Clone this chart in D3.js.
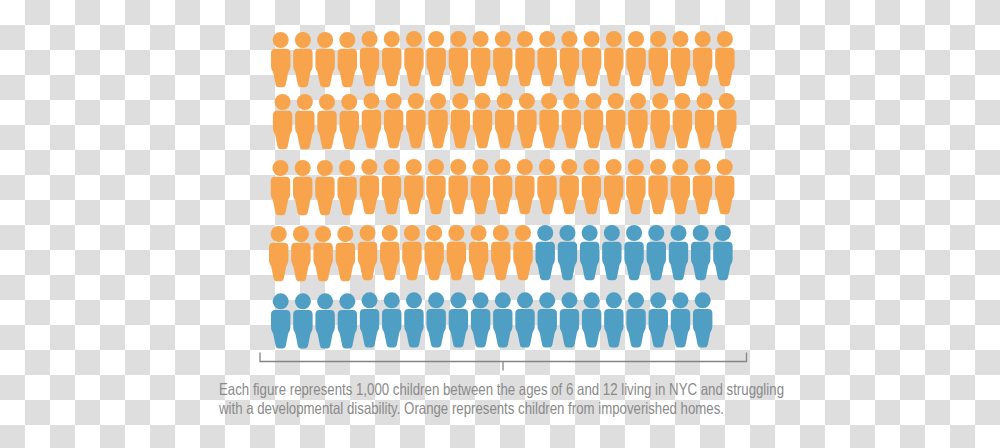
<!DOCTYPE html>
<html><head><meta charset="utf-8">
<style>html,body{margin:0;padding:0;background:#fff}svg{display:block}</style>
<script src="https://cdn.jsdelivr.net/npm/d3@7/dist/d3.min.js"></script>
</head><body><div id="c"></div>
<script>
const rowNames = ["row1","row2","row3","row4","row5"];
const orangeCounts = [21,21,21,12,0];
const blueCounts = [0,0,0,9,20];
const captionLines = [
  "Each figure represents 1,000 children between the ages of 6 and 12 living in NYC and struggling",
  "with a developmental disability. Orange represents children from impoverished homes."
];

const W=1000,H=448;
const svg=d3.select("#c").append("svg").attr("width",W).attr("height",H);
const defs=svg.append("defs");
const pat=defs.append("pattern").attr("id","chk").attr("patternUnits","userSpaceOnUse")
  .attr("width",50).attr("height",50);
pat.append("rect").attr("width",50).attr("height",50).attr("fill","#fff");
pat.append("rect").attr("x",25).attr("y",0).attr("width",25).attr("height",25).attr("fill","#dedede");
pat.append("rect").attr("x",0).attr("y",25).attr("width",25).attr("height",25).attr("fill","#dedede");
svg.append("rect").attr("width",W).attr("height",H).attr("fill","url(#chk)");

const color=d3.scaleOrdinal().domain(["orange","blue"]).range(["#f8a44c","#4f9ec4"]);
const rowY=d3.scaleOrdinal().domain(rowNames).range([39,101,167,233,300.3]);
const rowX0=d3.scaleOrdinal().domain(rowNames).range([280.7,282.6,280.5,278.7,280.7]);
const col=d3.scaleLinear().domain([0,20]).range([0,444.2]);

function bodyPath(){
  const p=d3.path();
  p.moveTo(-5.5,8.8);
  p.lineTo(5.5,8.8);
  p.bezierCurveTo(8.4,8.8,9.7,10.6,9.7,13.2);
  p.lineTo(9.7,26);
  p.bezierCurveTo(9.7,29.5,8,30.5,7.4,33);
  p.lineTo(5.2,44);
  p.bezierCurveTo(4.8,46.3,3.6,47.2,2,47.2);
  p.lineTo(-2,47.2);
  p.bezierCurveTo(-3.6,47.2,-4.8,46.3,-5.2,44);
  p.lineTo(-7.4,33);
  p.bezierCurveTo(-8,30.5,-9.7,29.5,-9.7,26);
  p.lineTo(-9.7,13.2);
  p.bezierCurveTo(-9.7,10.6,-8.4,8.8,-5.5,8.8);
  p.closePath();
  return p.toString();
}
const body=bodyPath();

const figures=[];
rowNames.forEach((r,ri)=>{
  d3.range(orangeCounts[ri]).forEach(i=>figures.push({r,i,kind:"orange"}));
  d3.range(blueCounts[ri]).forEach(j=>figures.push({r,i:orangeCounts[ri]+j,kind:"blue"}));
});
const g=svg.selectAll("g.fig").data(figures).join("g").attr("class","fig")
  .attr("transform",d=>`translate(${rowX0(d.r)+col(d.i)},${rowY(d.r)+(d.i<4?1:0)})`)
  .attr("fill",d=>color(d.kind));
g.append("circle").attr("r",8);
g.append("path").attr("d",body);

const axisCol="#858585";
const bracket=d3.path();
bracket.moveTo(260,352.5);bracket.lineTo(260,361.5);bracket.lineTo(746.5,361.5);bracket.lineTo(746.5,352.5);
bracket.moveTo(503,361.5);bracket.lineTo(503,370.5);
svg.append("path").attr("d",bracket.toString()).attr("fill","none").attr("stroke",axisCol).attr("stroke-width",1.3);

svg.selectAll("text.cap").data(captionLines).join("text").attr("class","cap")
  .attr("x",219).attr("y",(d,i)=>395+i*19)
  .attr("font-family","'Liberation Sans',Arial,sans-serif").attr("font-size",16.5)
  .attr("fill","#8a8a8a")
  .attr("textLength",(d,i)=>i==0?565:505).attr("lengthAdjust","spacingAndGlyphs")
  .text(d=>d);
</script></body></html>
